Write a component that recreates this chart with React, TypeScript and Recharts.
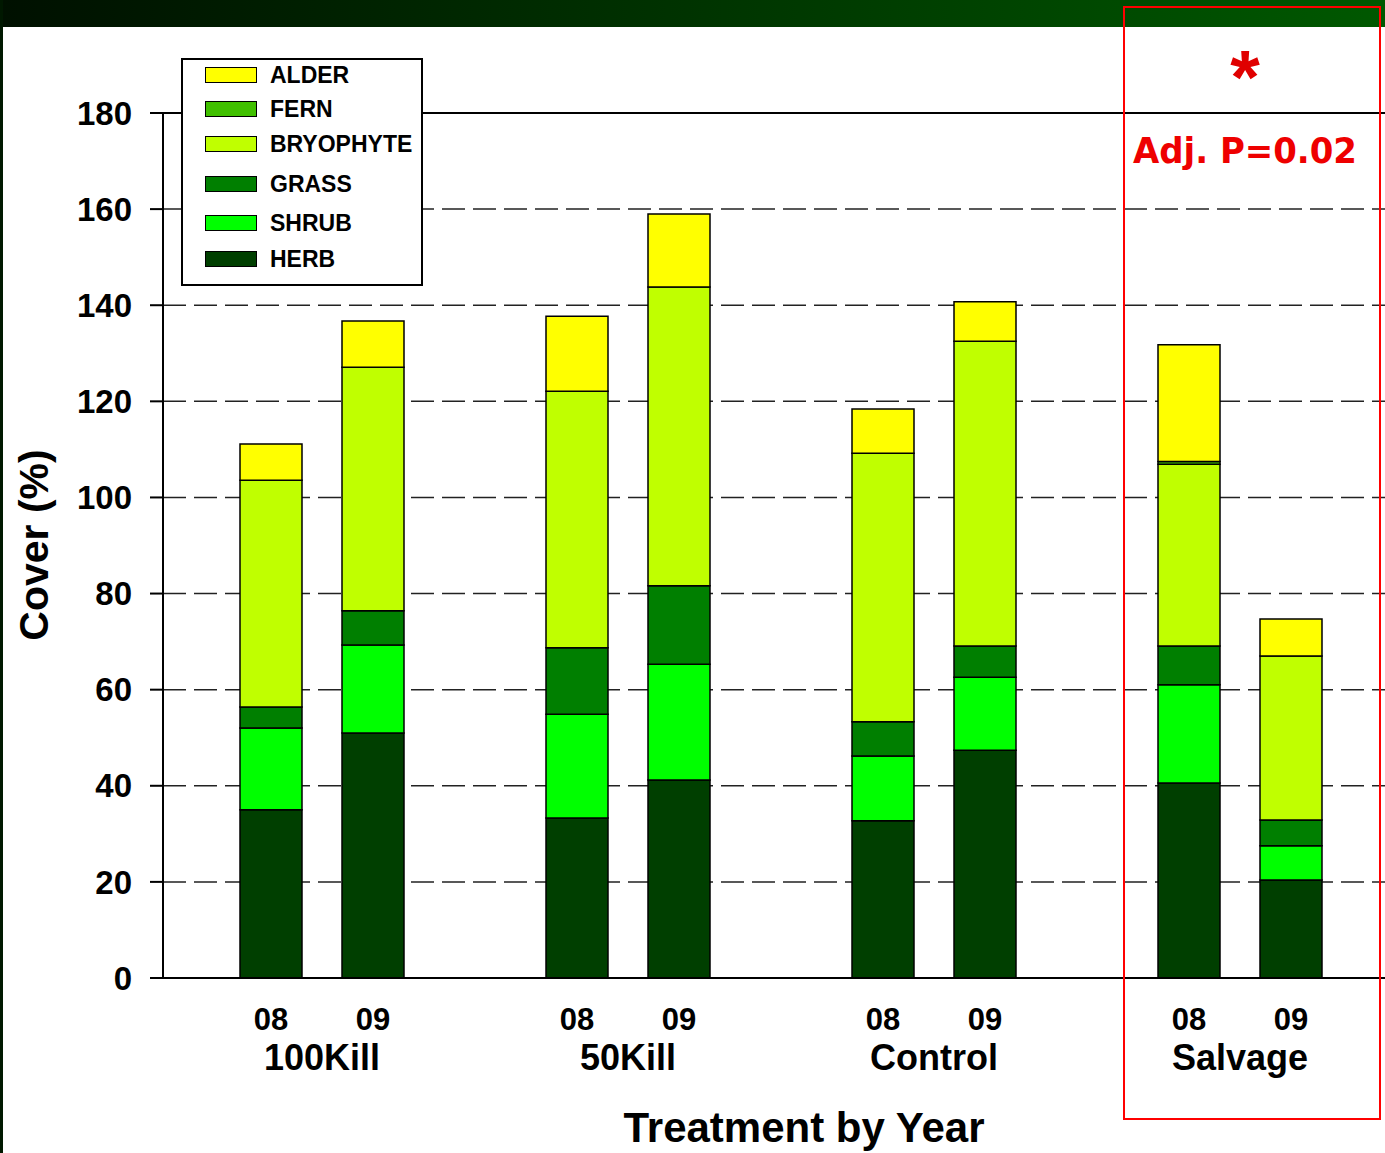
import React from 'react';
import { BarChart, Bar, XAxis, YAxis, CartesianGrid, ReferenceLine, Legend } from 'recharts';

const treatments = ['100Kill', '50Kill', 'Control', 'Salvage'];
const years = ['08', '09'];
// values in treatment/year order: 100Kill-08, 100Kill-09, 50Kill-08, 50Kill-09, Control-08, Control-09, Salvage-08, Salvage-09
const herb = [35.0, 51.0, 33.3, 41.2, 32.7, 47.4, 40.6, 20.4];
const shrub = [17.0, 18.3, 21.6, 24.1, 13.5, 15.2, 20.4, 7.1];
const grass = [4.4, 7.1, 13.8, 16.3, 7.1, 6.5, 8.1, 5.4];
const bryophyte = [47.2, 50.7, 53.4, 62.2, 55.9, 63.4, 37.8, 34.1];
const fern = [0, 0, 0, 0, 0, 0, 0.6, 0];
const alder = [7.5, 9.6, 15.6, 15.2, 9.2, 8.2, 24.3, 7.7];
const yTicks = [0, 20, 40, 60, 80, 100, 120, 140, 160, 180];

const seriesKeys = ['herb', 'shrub', 'grass', 'bryophyte', 'fern', 'alder'];
const seriesNames = ['HERB', 'SHRUB', 'GRASS', 'BRYOPHYTE', 'FERN', 'ALDER'];
const seriesColors = ['#003f00', '#00ff00', '#007f00', '#c0ff00', '#40c000', '#ffff00'];
const seriesValues = [herb, shrub, grass, bryophyte, fern, alder];

type Row = { id: string; year: string; group: string; [k: string]: any };
const table: Row[] = [];
treatments.forEach((t, ti) => {
  years.forEach((yr, yi) => {
    const i = ti * years.length + yi;
    const row: Row = { id: `${t}-${yr}`, year: yr, group: t };
    seriesKeys.forEach((k, si) => {
      row[k] = seriesValues[si][i];
    });
    table.push(row);
  });
  if (ti < treatments.length - 1) table.push({ id: `gap-${ti}`, year: '', group: '' });
});

const FONT = '"Liberation Sans", Arial, sans-serif';

const XTick = (props: any) => {
  const { x, y, payload } = props;
  const row = table[payload.index];
  if (!row || !row.year) return null;
  return (
    <g>
      <text x={x} y={y + 44} textAnchor="middle" fontFamily={FONT} fontWeight="bold" fontSize={31} fill="#000">
        {row.year}
      </text>
      {row.year === years[0] ? (
        <text x={x + 51} y={y + 84} textAnchor="middle" fontFamily={FONT} fontWeight="bold" fontSize={36} fill="#000">
          {row.group}
        </text>
      ) : null}
    </g>
  );
};

const LegendBox = () => {
  const order = [5, 4, 3, 2, 1, 0];
  const centers = [17, 51, 86, 126, 165, 201];
  return (
    <div
      style={{
        width: 242,
        height: 228,
        boxSizing: 'border-box',
        border: '2px solid #000',
        background: '#fff',
        position: 'relative',
        fontFamily: FONT,
      }}
    >
      {order.map((si, i) => (
        <div key={si}>
          <div
            style={{
              position: 'absolute',
              left: 22,
              top: centers[i] - 2 - 8,
              width: 52,
              height: 16,
              boxSizing: 'border-box',
              border: '1.5px solid #000',
              background: seriesColors[si],
            }}
          />
          <div
            style={{
              position: 'absolute',
              left: 87,
              top: centers[i] - 2 - 13,
              fontSize: 23,
              fontWeight: 'bold',
              lineHeight: '26px',
              color: '#000',
              whiteSpace: 'nowrap',
            }}
          >
            {seriesNames[si]}
          </div>
        </div>
      ))}
    </div>
  );
};

export default function App() {
  return (
    <div style={{ position: 'absolute', left: 0, top: 0, width: 1385, height: 1153, background: '#fff', overflow: 'hidden' }}>
      <BarChart
        width={1385}
        height={1153}
        data={table}
        margin={{ top: 113, right: 0, bottom: 0, left: 0 }}
        barSize={62}
      >
        <CartesianGrid vertical={false} stroke="#222" strokeWidth={1.5} strokeDasharray="23 8" />
        <XAxis
          dataKey="id"
          interval={0}
          tickLine={false}
          axisLine={{ stroke: '#000', strokeWidth: 2 }}
          padding={{ left: 57, right: 43 }}
          height={175}
          tick={<XTick />}
          label={{
            content: () => (
              <text x={804} y={1142} textAnchor="middle" fontFamily={FONT} fontWeight="bold" fontSize={42} fill="#000">
                Treatment by Year
              </text>
            ),
          }}
        />
        <YAxis
          width={163}
          domain={[0, 180]}
          ticks={yTicks}
          interval={0}
          tickSize={13}
          tickMargin={18}
          axisLine={{ stroke: '#000', strokeWidth: 2 }}
          tickLine={{ stroke: '#000', strokeWidth: 2 }}
          tick={{ fontFamily: FONT, fontWeight: 'bold', fontSize: 33, fill: '#000' }}
          label={{
            content: () => (
              <text
                x={48}
                y={545}
                transform="rotate(-90 48 545)"
                textAnchor="middle"
                fontFamily={FONT}
                fontWeight="bold"
                fontSize={41}
                fill="#000"
              >
                Cover (%)
              </text>
            ),
          }}
        />
        <ReferenceLine y={180} stroke="#000" strokeWidth={2} />
        {seriesKeys.map((k, si) => (
          <Bar
            key={k}
            dataKey={k}
            name={seriesNames[si]}
            stackId="a"
            fill={seriesColors[si]}
            stroke="#000"
            strokeWidth={1.5}
            isAnimationActive={false}
          />
        ))}
        <Legend
          layout="vertical"
          align="center"
          verticalAlign="middle"
          wrapperStyle={{ position: 'absolute', left: 181, top: 58, width: 242, height: 228 }}
          content={() => <LegendBox />}
        />
      </BarChart>
      <svg width={1385} height={1153} style={{ position: 'absolute', left: 0, top: 0, pointerEvents: 'none' }}>
        <defs>
          <linearGradient id="band" x1="0" y1="0" x2="1" y2="0">
            <stop offset="0%" stopColor="#001000" />
            <stop offset="40%" stopColor="#002c00" />
            <stop offset="100%" stopColor="#005800" />
          </linearGradient>
        </defs>
        <rect x={0} y={0} width={1385} height={27} fill="url(#band)" />
        <rect x={0} y={0} width={3} height={1153} fill="#001800" />
        <rect x={1124} y={7} width={256} height={1112} fill="none" stroke="#ff0000" strokeWidth={2} />
        <text x={1245} y={103} textAnchor="middle" fontFamily={FONT} fontWeight="bold" fontSize={76} fill="#e00000">
          *
        </text>
        <text
          x={1133}
          y={163}
          textLength={224}
          lengthAdjust="spacingAndGlyphs"
          fontFamily='"DejaVu Sans", sans-serif'
          fontWeight="bold"
          fontSize={36}
          fill="#ee0000"
        >
          Adj. P=0.02
        </text>
      </svg>
    </div>
  );
}
